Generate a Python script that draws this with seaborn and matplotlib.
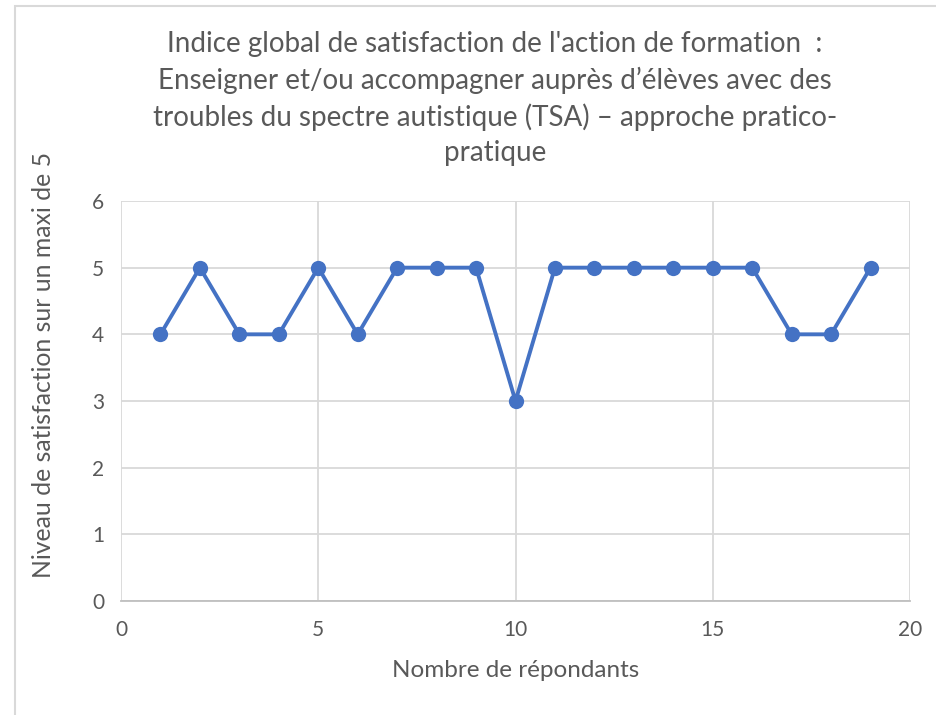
import matplotlib
matplotlib.use("Agg")
import matplotlib.pyplot as plt
import seaborn as sns
import pandas as pd
from matplotlib.patches import Rectangle

# data
respondants = list(range(1, 20))
satisfaction = [4, 5, 4, 4, 5, 4, 5, 5, 5, 3, 5, 5, 5, 5, 5, 5, 4, 4, 5]

title = ("Indice global de satisfaction de l'action de formation  :\n"
         "Enseigner et/ou accompagner auprès d\u2019élèves avec des\n"
         "troubles du spectre autistique (TSA) \u2013 approche pratico-\n"
         "pratique")
xlabel = "Nombre de répondants"
ylabel = "Niveau de satisfaction sur un maxi de 5"

df = pd.DataFrame({"x": respondants, "y": satisfaction})

sns.set_theme(style="white")
plt.rcParams['font.family'] = ['Lato', 'DejaVu Sans']

text_col = "#595959"
grid_col = "#D9D9D9"
blue = "#4472C4"

fig = plt.figure(figsize=(9.36, 7.15), dpi=100)
ax = fig.add_axes([121/936, 1 - 601/715, (910 - 121)/936, (601 - 201)/715])

# chart frame
fig.patches.append(Rectangle((15/936, -0.1), 1.2, 1 - 6/715 + 0.1,
                             transform=fig.transFigure, fill=False,
                             edgecolor="#D9D9D9", linewidth=1.5))

sns.lineplot(data=df, x="x", y="y", ax=ax, color=blue, linewidth=2.8,
             marker="o", markersize=11, markeredgewidth=0, markerfacecolor=blue)

ax.set_xlim(0, 20)
ax.set_ylim(0, 6)
ax.set_xticks([0, 5, 10, 15, 20])
ax.set_yticks(range(0, 7))
ax.grid(True, color=grid_col, linewidth=1.3)
ax.set_axisbelow(True)
for side in ["top", "right", "left"]:
    ax.spines[side].set_visible(False)
ax.spines["bottom"].set_color("#BFBFBF")
ax.spines["bottom"].set_linewidth(1.3)
ax.tick_params(axis="both", length=0, labelsize=15, colors=text_col, pad=12)
ax.tick_params(axis="x", pad=14)

ax.set_xlabel(xlabel, fontsize=17.5, color=text_col, labelpad=14)
ax.set_ylabel(ylabel, fontsize=17.8, color=text_col)
ax.yaxis.set_label_coords(-0.084, 0.59)

fig.text(495/936, 1 - 31/715, title, ha="center", va="top", fontsize=20,
         color=text_col, linespacing=1.42)

fig.savefig("out.png", dpi=100)
